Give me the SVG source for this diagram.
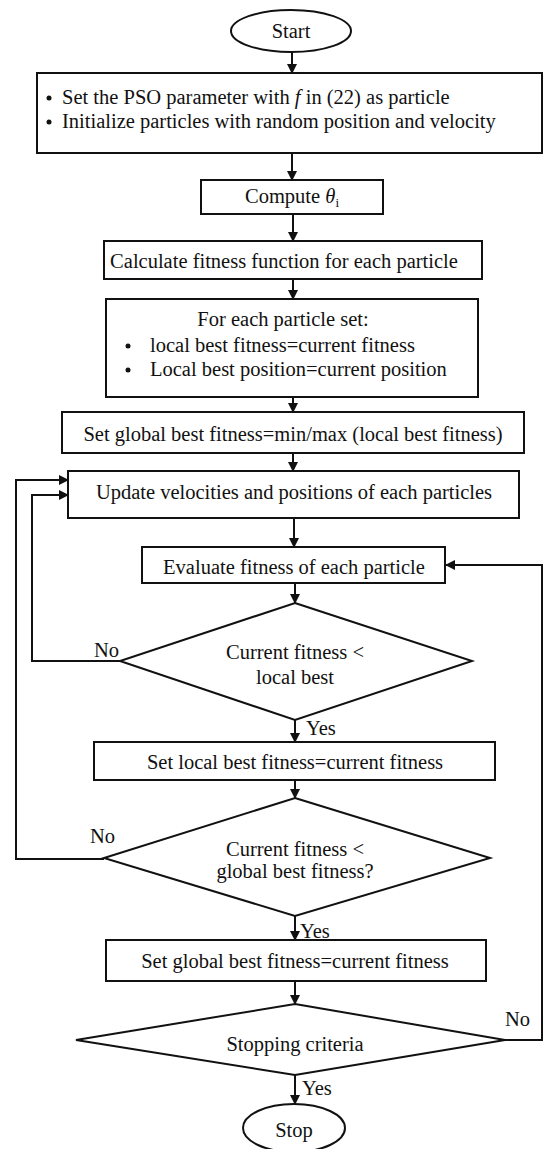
<svg xmlns="http://www.w3.org/2000/svg" width="544" height="1149" viewBox="0 0 544 1149">
<defs>
<marker id="ah" markerWidth="10" markerHeight="10" refX="9" refY="5" orient="auto" markerUnits="userSpaceOnUse">
<path d="M0,0 L10,5 L0,10 Z" fill="#111"/>
</marker>
<style>
.n{fill:#fff;stroke:#111;stroke-width:2}
.t{font-family:"Liberation Serif","Times New Roman",serif;font-size:20.5px;fill:#111}
.m{text-anchor:middle}
.c{fill:none;stroke:#111;stroke-width:2}
</style>
</defs>
<rect width="544" height="1149" fill="#fff"/>
<g id="connectors">
<line class="c" x1="292" y1="52" x2="292" y2="73" marker-end="url(#ah)"/>
<line class="c" x1="292" y1="153" x2="292" y2="180" marker-end="url(#ah)"/>
<line class="c" x1="293" y1="214" x2="293" y2="241" marker-end="url(#ah)"/>
<line class="c" x1="293" y1="279" x2="293" y2="299" marker-end="url(#ah)"/>
<line class="c" x1="293" y1="397" x2="293" y2="412" marker-end="url(#ah)"/>
<line class="c" x1="293" y1="453" x2="293" y2="471" marker-end="url(#ah)"/>
<line class="c" x1="294" y1="518" x2="294" y2="547" marker-end="url(#ah)"/>
<line class="c" x1="295" y1="583" x2="295" y2="603" marker-end="url(#ah)"/>
<line class="c" x1="295" y1="720" x2="295" y2="742" marker-end="url(#ah)"/>
<line class="c" x1="295" y1="780" x2="295" y2="798" marker-end="url(#ah)"/>
<line class="c" x1="295" y1="916" x2="295" y2="940" marker-end="url(#ah)"/>
<line class="c" x1="295" y1="981" x2="295" y2="1004" marker-end="url(#ah)"/>
<line class="c" x1="295" y1="1075" x2="295" y2="1104" marker-end="url(#ah)"/>
<polyline class="c" points="120,661 32,661 32,495 68,495" marker-end="url(#ah)"/>
<polyline class="c" points="104,859 16,859 16,480 68,480" marker-end="url(#ah)"/>
<polyline class="c" points="505,1040 542,1040 542,565 446,565" marker-end="url(#ah)"/>
<text class="t" x="94" y="657">No</text>
<text class="t" x="306" y="735">Yes</text>
<text class="t" x="90" y="843">No</text>
<text class="t" x="300" y="938">Yes</text>
<text class="t" x="505" y="1026">No</text>
<text class="t" x="302" y="1095">Yes</text>
</g>
<g id="start">
<ellipse class="n" cx="291" cy="31" rx="60" ry="21"/>
<text class="t m" x="291" y="38">Start</text>
</g>
<g id="init">
<rect class="n" x="37" y="73" width="505" height="80"/>
<circle cx="49" cy="98" r="2.5" fill="#111"/>
<text class="t" x="62" y="104">Set the PSO parameter with <tspan font-style="italic">f</tspan> in (22) as particle</text>
<circle cx="49" cy="122" r="2.5" fill="#111"/>
<text class="t" x="62" y="128">Initialize particles with random position and velocity</text>
</g>
<g id="compute">
<rect class="n" x="201" y="180" width="182" height="34"/>
<text class="t m" x="292" y="203">Compute  <tspan font-style="italic">θ</tspan><tspan font-size="13" dy="4">i</tspan></text>
</g>
<g id="calc">
<rect class="n" x="104" y="241" width="378" height="38"/>
<text class="t m" x="284" y="268">Calculate fitness function for each particle</text>
</g>
<g id="foreach">
<rect class="n" x="106" y="299" width="372" height="98"/>
<text class="t m" x="283" y="326">For each particle set:</text>
<circle cx="128" cy="346" r="2.5" fill="#111"/>
<text class="t" x="150" y="352">local best fitness=current fitness</text>
<circle cx="128" cy="370" r="2.5" fill="#111"/>
<text class="t" x="150" y="376">Local best position=current position</text>
</g>
<g id="setglobal1">
<rect class="n" x="62" y="412" width="462" height="41"/>
<text class="t m" x="293" y="441">Set global best fitness=min/max (local best fitness)</text>
</g>
<g id="update">
<rect class="n" x="68" y="471" width="451" height="47"/>
<text class="t m" x="294" y="499">Update velocities and positions of each particles</text>
</g>
<g id="evaluate">
<rect class="n" x="142" y="547" width="303" height="36"/>
<text class="t m" x="294" y="574">Evaluate fitness of each particle</text>
</g>
<g id="dec1">
<polygon class="n" points="295,603 472,661 295,720 120,661"/>
<text class="t m" x="295" y="659">Current fitness &lt;</text>
<text class="t m" x="295" y="684">local best</text>
</g>
<g id="setlocal">
<rect class="n" x="94" y="742" width="401" height="38"/>
<text class="t m" x="295" y="769">Set local best fitness=current fitness</text>
</g>
<g id="dec2">
<polygon class="n" points="295,798 490,858 295,916 104,858"/>
<text class="t m" x="295" y="856">Current fitness &lt;</text>
<text class="t m" x="295" y="878">global best fitness?</text>
</g>
<g id="setglobal2">
<rect class="n" x="106" y="940" width="380" height="41"/>
<text class="t m" x="295" y="968">Set global best fitness=current fitness</text>
</g>
<g id="dec3">
<polygon class="n" points="295,1004 505,1040 295,1075 76,1040"/>
<text class="t m" x="295" y="1051">Stopping criteria</text>
</g>
<g id="stop">
<ellipse class="n" cx="294" cy="1128" rx="51" ry="24"/>
<text class="t m" x="294" y="1137">Stop</text>
</g>
</svg>
